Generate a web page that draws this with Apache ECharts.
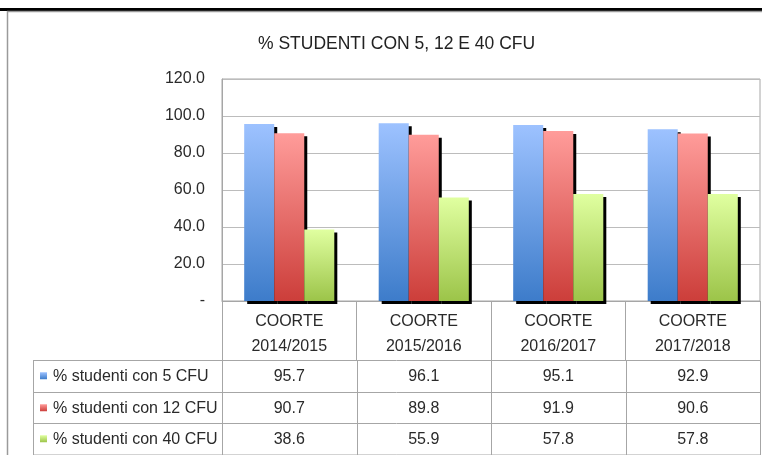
<!DOCTYPE html>
<html>
<head>
<meta charset="utf-8">
<script src="https://cdn.jsdelivr.net/npm/echarts@6/dist/echarts.min.js"></script>
<style>
html, body { margin: 0; padding: 0; background: #fff; }
#chart { width: 762px; height: 455px; }
</style>
</head>
<body>
<div id="chart"></div>
<script>
// dati
const categories = ['COORTE\n2014/2015', 'COORTE\n2015/2016', 'COORTE\n2016/2017', 'COORTE\n2017/2018']
const seriesNames = ['% studenti con 5 CFU', '% studenti con 12 CFU', '% studenti con 40 CFU']
const cfu5 = [95.7, 96.1, 95.1, 92.9]
const cfu12 = [90.7, 89.8, 91.9, 90.6]
const cfu40 = [38.6, 55.9, 57.8, 57.8]

const FONT = '"Liberation Sans", Arial, sans-serif'
const lineCol = '#a6a6a6'

function grad(top, bottom) {
    return new echarts.graphic.LinearGradient(0, 0, 0, 1, [
        { offset: 0, color: top },
        { offset: 1, color: bottom }
    ])
}

const fills = [
    ['#9dc2ff', '#3d7cca'],  // blu
    ['#ff9c9a', '#cc3e3a'],  // rosso
    ['#e0ffa0', '#9cc449']   // verde
]
const values = [cfu5, cfu12, cfu40]

const chart = echarts.init(document.getElementById('chart'))

chart.setOption({
    animation: false,
    title: {
        text: '% STUDENTI CON 5, 12 E 40 CFU',
        left: 253,
        top: 30,
        textStyle: { fontFamily: FONT, fontSize: 17.5, fontWeight: 'normal', color: '#222' }
    },
    grid: {
        left: 222,
        top: 79,
        right: 2,
        bottom: 154,
        show: true,
        borderColor: lineCol,
        borderWidth: 1
    },
    xAxis: {
        type: 'category',
        data: categories,
        axisLine: { lineStyle: { color: lineCol } },
        axisTick: { show: true, length: 59, interval: 0, lineStyle: { color: lineCol } },
        axisLabel: {
            interval: 0,
            margin: 8,
            lineHeight: 25,
            fontFamily: FONT,
            fontSize: 16,
            color: '#2a2a2a'
        }
    },
    yAxis: {
        type: 'value',
        min: 0,
        max: 120,
        interval: 20,
        axisLine: { show: true, lineStyle: { color: lineCol } },
        axisTick: { show: false },
        splitLine: { lineStyle: { color: '#bcbcbc' } },
        axisLabel: {
            margin: 17,
            fontFamily: FONT,
            fontSize: 16,
            color: '#2a2a2a',
            formatter: v => v === 0 ? '-' : v.toFixed(1)
        }
    },
    series: values.map((d, k) => ({
        name: seriesNames[k],
        type: 'bar',
        data: d,
        barGap: '0%',
        barCategoryGap: '33%',
        emphasis: { disabled: true },
        itemStyle: {
            color: grad(fills[k][0], fills[k][1]),
            shadowColor: '#000',
            shadowBlur: 0,
            shadowOffsetX: 3,
            shadowOffsetY: 3
        }
    }))
})

// tabella dati sotto il grafico
const c0 = chart.convertToPixel({ xAxisIndex: 0 }, 0)
const c1 = chart.convertToPixel({ xAxisIndex: 0 }, 1)
const band = c1 - c0
const tableLeft = 33
const gridRight = c0 - band / 2 + band * categories.length
const rowTop = [360, 392, 423]
const rowH = 31.5
const els = []

// cornice
els.push({ type: 'rect', shape: { x: 0, y: 8, width: 762, height: 3 }, style: { fill: '#000' } })
els.push({ type: 'line', shape: { x1: 7, y1: 11.5, x2: 762, y2: 11.5 }, style: { stroke: '#9a9a9a', lineWidth: 1.5 } })
els.push({ type: 'line', shape: { x1: 7.5, y1: 11, x2: 7.5, y2: 455 }, style: { stroke: '#9a9a9a', lineWidth: 1.5 } })

// copre la parte bassa delle ombre
els.push({ type: 'rect', shape: { x: c0 - band / 2 + 1, y: 302, width: gridRight - (c0 - band / 2) - 2, height: 6 }, style: { fill: '#fff' } })

// linee orizzontali
rowTop.concat([454.5]).forEach(y => {
    els.push({ type: 'line', shape: { x1: tableLeft, y1: y + 0.5, x2: gridRight, y2: y + 0.5 }, style: { stroke: lineCol, lineWidth: 1 } })
})
// linee verticali
els.push({ type: 'line', shape: { x1: tableLeft + 0.5, y1: 360, x2: tableLeft + 0.5, y2: 455 }, style: { stroke: lineCol, lineWidth: 1 } })
for (let i = 0; i <= categories.length; i++) {
    const x = Math.round(c0 - band / 2 + band * i) + 0.5
    els.push({ type: 'line', shape: { x1: x, y1: 360, x2: x, y2: 455 }, style: { stroke: lineCol, lineWidth: 1 } })
}

values.forEach((d, k) => {
    const cy = rowTop[k] + rowH / 2 + 0.5
    els.push({ type: 'rect', shape: { x: 40, y: cy - 4, width: 7, height: 7 }, style: { fill: grad(fills[k][0], fills[k][1]) } })
    els.push({
        type: 'text', x: 53, y: cy,
        style: { text: seriesNames[k], font: '16px ' + FONT, fill: '#2a2a2a', verticalAlign: 'middle', align: 'left' }
    })
    d.forEach((v, i) => {
        const cx = chart.convertToPixel({ xAxisIndex: 0 }, i)
        els.push({
            type: 'text', x: cx, y: cy,
            style: { text: v.toFixed(1), font: '16px ' + FONT, fill: '#2a2a2a', verticalAlign: 'middle', align: 'center' }
        })
    })
})

chart.setOption({ graphic: { z: 100, elements: els } })
</script>
</body>
</html>
